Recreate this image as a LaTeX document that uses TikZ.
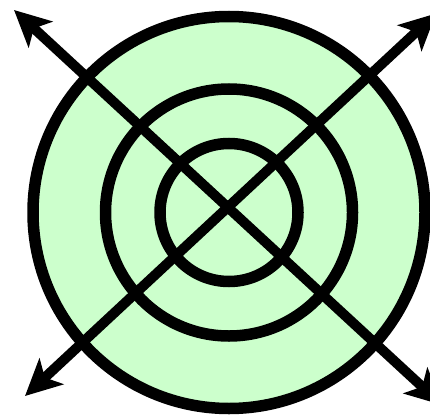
\documentclass[tikz,border=0pt]{standalone}
\usetikzlibrary{arrows.meta}
\definecolor{ringfill}{HTML}{CCFFCC}
\begin{document}
\begin{tikzpicture}[x=1pt,y=-1pt,
  ring/.style={draw=black,line width=11.5pt},
  axisarrow/.style={draw=black,line width=10pt,
    arrows={Stealth[length=36pt 0,width=35pt 0,inset=9pt 0]-Stealth[length=36pt 0,width=35pt 0,inset=9pt 0]}}]
\useasboundingbox (0,0) rectangle (430,417);
\coordinate (c) at (229,212.5);
\coordinate (tl) at (14,10);
\coordinate (br) at (442,405);
\coordinate (bl) at (25,396);
\coordinate (tr) at (436,13.5);
\fill[ringfill] (c) circle[radius=196];
\draw[ring] (c) circle[radius=196];
\draw[ring] (c) circle[radius=123.5];
\draw[ring] (c) circle[radius=69];
\draw[axisarrow] (tl) -- (br);
\draw[axisarrow] (bl) -- (tr);
\end{tikzpicture}
\end{document}
